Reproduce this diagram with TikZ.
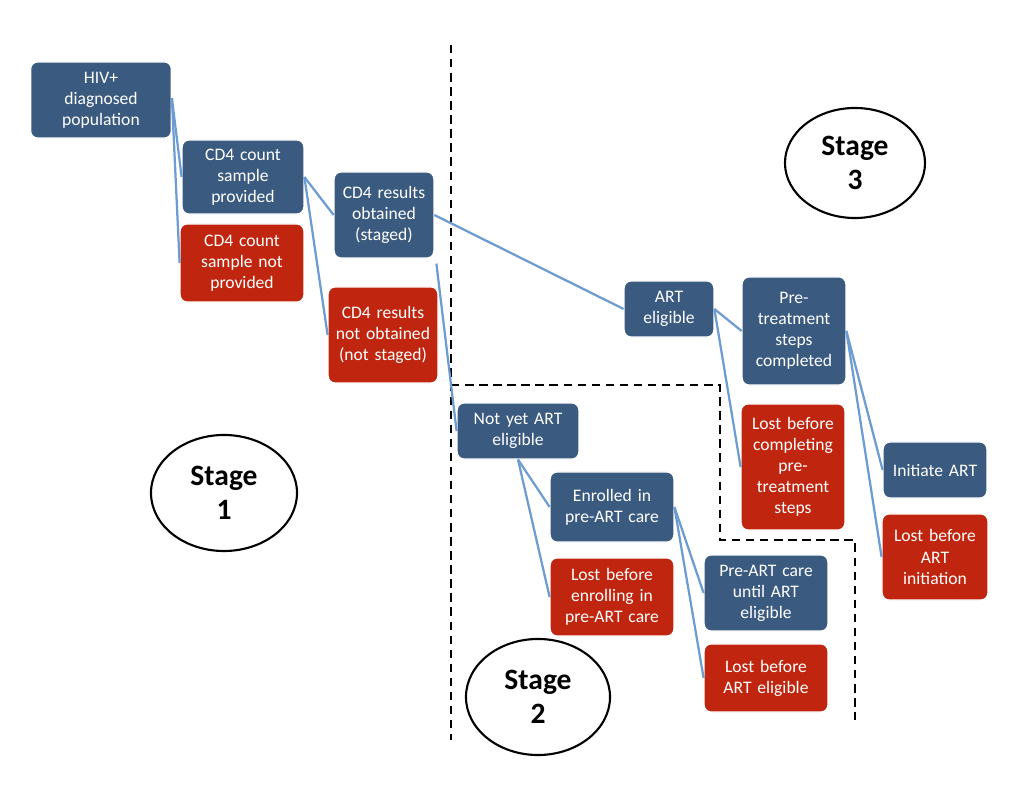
\documentclass[tikz,border=0pt]{standalone}
\usepackage{fontspec}
\setmainfont{Carlito}
\usetikzlibrary{positioning,calc,shapes}
\definecolor{boxblue}{HTML}{3A5A80}
\definecolor{boxred}{HTML}{C0260F}
\definecolor{linkblue}{HTML}{6D9CD3}
\tikzset{
  stage/.style={box,
    fill=boxblue},
  box/.style={draw=white, thick, rounded corners=5pt, text=white, align=center,
    font=\fontsize{12.5}{15}\selectfont, inner sep=2pt},
  ok/.style={box, fill=boxblue},
  lost/.style={box, fill=boxred},
  link/.style={linkblue, line width=1.6pt},
  bound/.style={black, line width=1.8pt, dash pattern=on 6pt off 4pt},
  circ/.style={ellipse, draw=black, line width=1.5pt, fill=white, align=center,
    font=\fontsize{21}{24}\selectfont\bfseries}
}
\begin{document}
\begin{tikzpicture}[x=0.025cm, y=-0.025cm]
\useasboundingbox (0,0) rectangle (1028,800);
% stage boundaries
\draw[bound] (451,45) -- (451,740);
\draw[bound] (451,385) -- (720,385) -- (720,540) -- (855,540) -- (855,720);
% boxes
\node[ok, minimum width=125\pgflinewidth, text width=2.9cm, minimum height=1.9cm] (hiv) at (101,100) {HIV+\\diagnosed\\population};
\node[ok, text width=2.9cm, minimum height=1.85cm] (sampled) at (243,177) {CD4 count\\sample\\provided};
\node[lost, text width=2.95cm, minimum height=1.95cm] (nosample) at (242,263) {CD4 count\\sample not\\provided};
\node[ok, text width=2.35cm, minimum height=2.15cm] (staged) at (384,215) {CD4 results\\obtained\\(staged)};
\node[lost, text width=2.6cm, minimum height=2.4cm] (unstaged) at (383,335) {CD4 results\\not obtained\\(not staged)};
\node[ok, text width=2.1cm, minimum height=1.4cm] (eligible) at (669,309) {ART\\eligible};
\node[ok, text width=2.45cm, minimum height=2.7cm] (pretreat) at (794,331) {Pre-\\treatment\\steps\\completed};
\node[lost, text width=2.45cm, minimum height=3.15cm] (lostpre) at (793,467) {Lost before\\completing\\pre-\\treatment\\steps};
\node[ok, text width=2.45cm, minimum height=1.4cm] (initiate) at (935,470) {Initiate ART};
\node[lost, text width=2.5cm, minimum height=2.15cm] (lostinit) at (935,557) {Lost before\\ART\\initiation};
\node[ok, text width=2.9cm, minimum height=1.4cm] (noteligible) at (518,431) {Not yet ART\\eligible};
\node[ok, text width=2.95cm, minimum height=1.75cm] (enrolled) at (612,507) {Enrolled in\\pre-ART  care};
\node[lost, text width=2.95cm, minimum height=1.95cm] (lostenrol) at (612,597) {Lost before\\enrolling in\\pre-ART care};
\node[ok, text width=2.95cm, minimum height=1.9cm] (preart) at (766,593) {Pre-ART care\\until  ART\\eligible};
\node[lost, text width=2.95cm, minimum height=1.7cm] (losteligible) at (766,678) {Lost before\\ART eligible};
% stage labels
\node[circ, minimum width=3.65cm, minimum height=2.9cm] (stageone) at (224,493) {Stage\\1};
\node[circ, minimum width=3.6cm, minimum height=2.9cm] (stagetwo) at (538,697) {Stage\\2};
\node[circ, minimum width=3.5cm, minimum height=2.75cm] (stagethree) at (855,163) {Stage\\3};
% connectors
\draw[link] ($(hiv.east)+(0,-2)$) -- (sampled.west);
\draw[link] ($(hiv.east)+(0,-2)$) -- (nosample.west);
\draw[link] (sampled.east) -- (staged.west);
\draw[link] (sampled.east) -- (unstaged.west);
\draw[link] (staged.east) -- (eligible.west);
\draw[link] ($(staged.south east)+(2,5)$) -- (noteligible.west);
\draw[link] (eligible.east) -- (pretreat.west);
\draw[link] (eligible.east) -- (lostpre.west);
\draw[link] (pretreat.east) -- (initiate.west);
\draw[link] (pretreat.east) -- (lostinit.west);
\draw[link] (noteligible.south) -- (enrolled.west);
\draw[link] (noteligible.south) -- (lostenrol.west);
\draw[link] (enrolled.east) -- (preart.west);
\draw[link] (enrolled.east) -- (losteligible.west);
\end{tikzpicture}
\end{document}
